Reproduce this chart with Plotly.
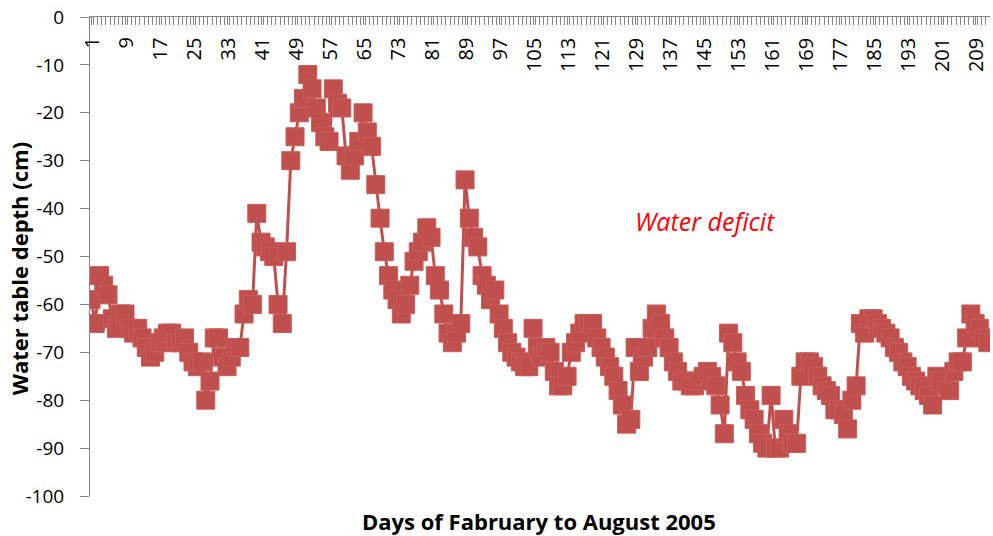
import plotly.graph_objects as go

days = list(range(1, 213))
depth = [
    -59, -64, -54, -56, -58, -63, -65, -62, -62, -65,
    -66, -65, -67, -69, -71, -70, -68, -67, -66, -66,
    -68, -68, -67, -70, -72, -73, -72, -80, -76, -67,
    -67, -71, -73, -71, -69, -69, -62, -59, -60, -41,
    -47, -48, -49, -50, -60, -64, -49, -30, -25, -20,
    -17, -12, -15, -19, -22, -25, -26, -15, -18, -19,
    -29, -32, -29, -26, -20, -24, -27, -35, -42, -49,
    -54, -57, -59, -62, -60, -56, -51, -49, -47, -44,
    -46, -54, -57, -62, -66, -68, -66, -64, -34, -42,
    -46, -48, -54, -56, -59, -57, -62, -65, -68, -70,
    -71, -72, -73, -73, -65, -69, -71, -69, -70, -74,
    -77, -77, -75, -70, -68, -66, -64, -64, -64, -67,
    -69, -71, -73, -75, -78, -81, -85, -84, -69, -74,
    -71, -69, -65, -62, -64, -67, -69, -72, -74, -76,
    -76, -77, -77, -76, -75, -74, -75, -77, -81, -87,
    -66, -68, -72, -74, -79, -82, -84, -87, -89, -90,
    -79, -90, -90, -84, -87, -89, -89, -75, -72, -72,
    -73, -75, -77, -78, -79, -82, -82, -83, -86, -80,
    -77, -64, -66, -63, -63, -64, -65, -66, -67, -69,
    -70, -72, -73, -75, -76, -77, -78, -79, -81, -75,
    -76, -77, -78, -74, -72, -72, -67, -62, -64, -65,
    -67, -68,
]
tick_days = list(range(1, 213, 8))
tick_labels = [str(d) for d in tick_days]
y_ticks = list(range(-100, 1, 10))
y_labels = [str(v) for v in y_ticks]

red = "#C0504D"
axis_gray = "#868686"
font_family = "Open Sans, Liberation Sans, sans-serif"

fig = go.Figure()
fig.add_trace(go.Scatter(
    x=days, y=depth, mode="lines+markers",
    line=dict(color=red, width=3),
    marker=dict(symbol="square", size=18, color=red,
                line=dict(color="#C85A57", width=1)),
    showlegend=False,
))

annotations = [
    dict(text="<b>Water table depth (cm)</b>", xref="paper", yref="paper",
         x=-0.078, y=0.475, textangle=-90, showarrow=False,
         font=dict(size=22), xanchor="center", yanchor="middle"),
    dict(text="<b>Days of Fabruary to August 2005</b>", xref="paper", yref="paper",
         x=0.499, y=-0.017, showarrow=False, font=dict(size=22),
         xanchor="center", yanchor="top"),
    dict(text="<i>Water deficit</i>", xref="x", yref="y",
         x=145.5, y=-42.6, showarrow=False, font=dict(size=25, color="#FF0000"),
         xanchor="center", yanchor="middle"),
]
for d, lab in zip(tick_days, tick_labels):
    annotations.append(dict(
        text=lab, xref="x", yref="paper", x=d, y=1 - 19 / 479,
        textangle=-90, showarrow=False, font=dict(size=20),
        xanchor="center", yanchor="top",
    ))

fig.update_layout(
    width=993, height=536,
    margin=dict(l=90, r=3, t=17, b=40),
    plot_bgcolor="white", paper_bgcolor="white",
    font=dict(family=font_family, color="black", size=20),
    xaxis=dict(
        side="top", range=[0.76, 212.5], automargin=False,
        tickmode="array", tickvals=tick_days, showticklabels=False,
        ticks="inside", ticklen=8, tickcolor=axis_gray,
        minor=dict(ticks="inside", dtick=1, tick0=0.5, ticklen=8, tickcolor=axis_gray),
        showline=True, linecolor=axis_gray, linewidth=1,
        showgrid=False, zeroline=False,
    ),
    yaxis=dict(
        range=[-100, 0], tickmode="array", tickvals=y_ticks, ticktext=y_labels,
        automargin=False,
        ticks="outside", ticklen=9, tickcolor=axis_gray,
        ticklabelstandoff=12,
        showline=True, linecolor=axis_gray, linewidth=1,
        showgrid=False, zeroline=False,
        tickfont=dict(size=19),
    ),
    annotations=annotations,
)

fig.write_html("out.html", post_script="document.body.style.margin='0';",
               config={"displayModeBar": False})
